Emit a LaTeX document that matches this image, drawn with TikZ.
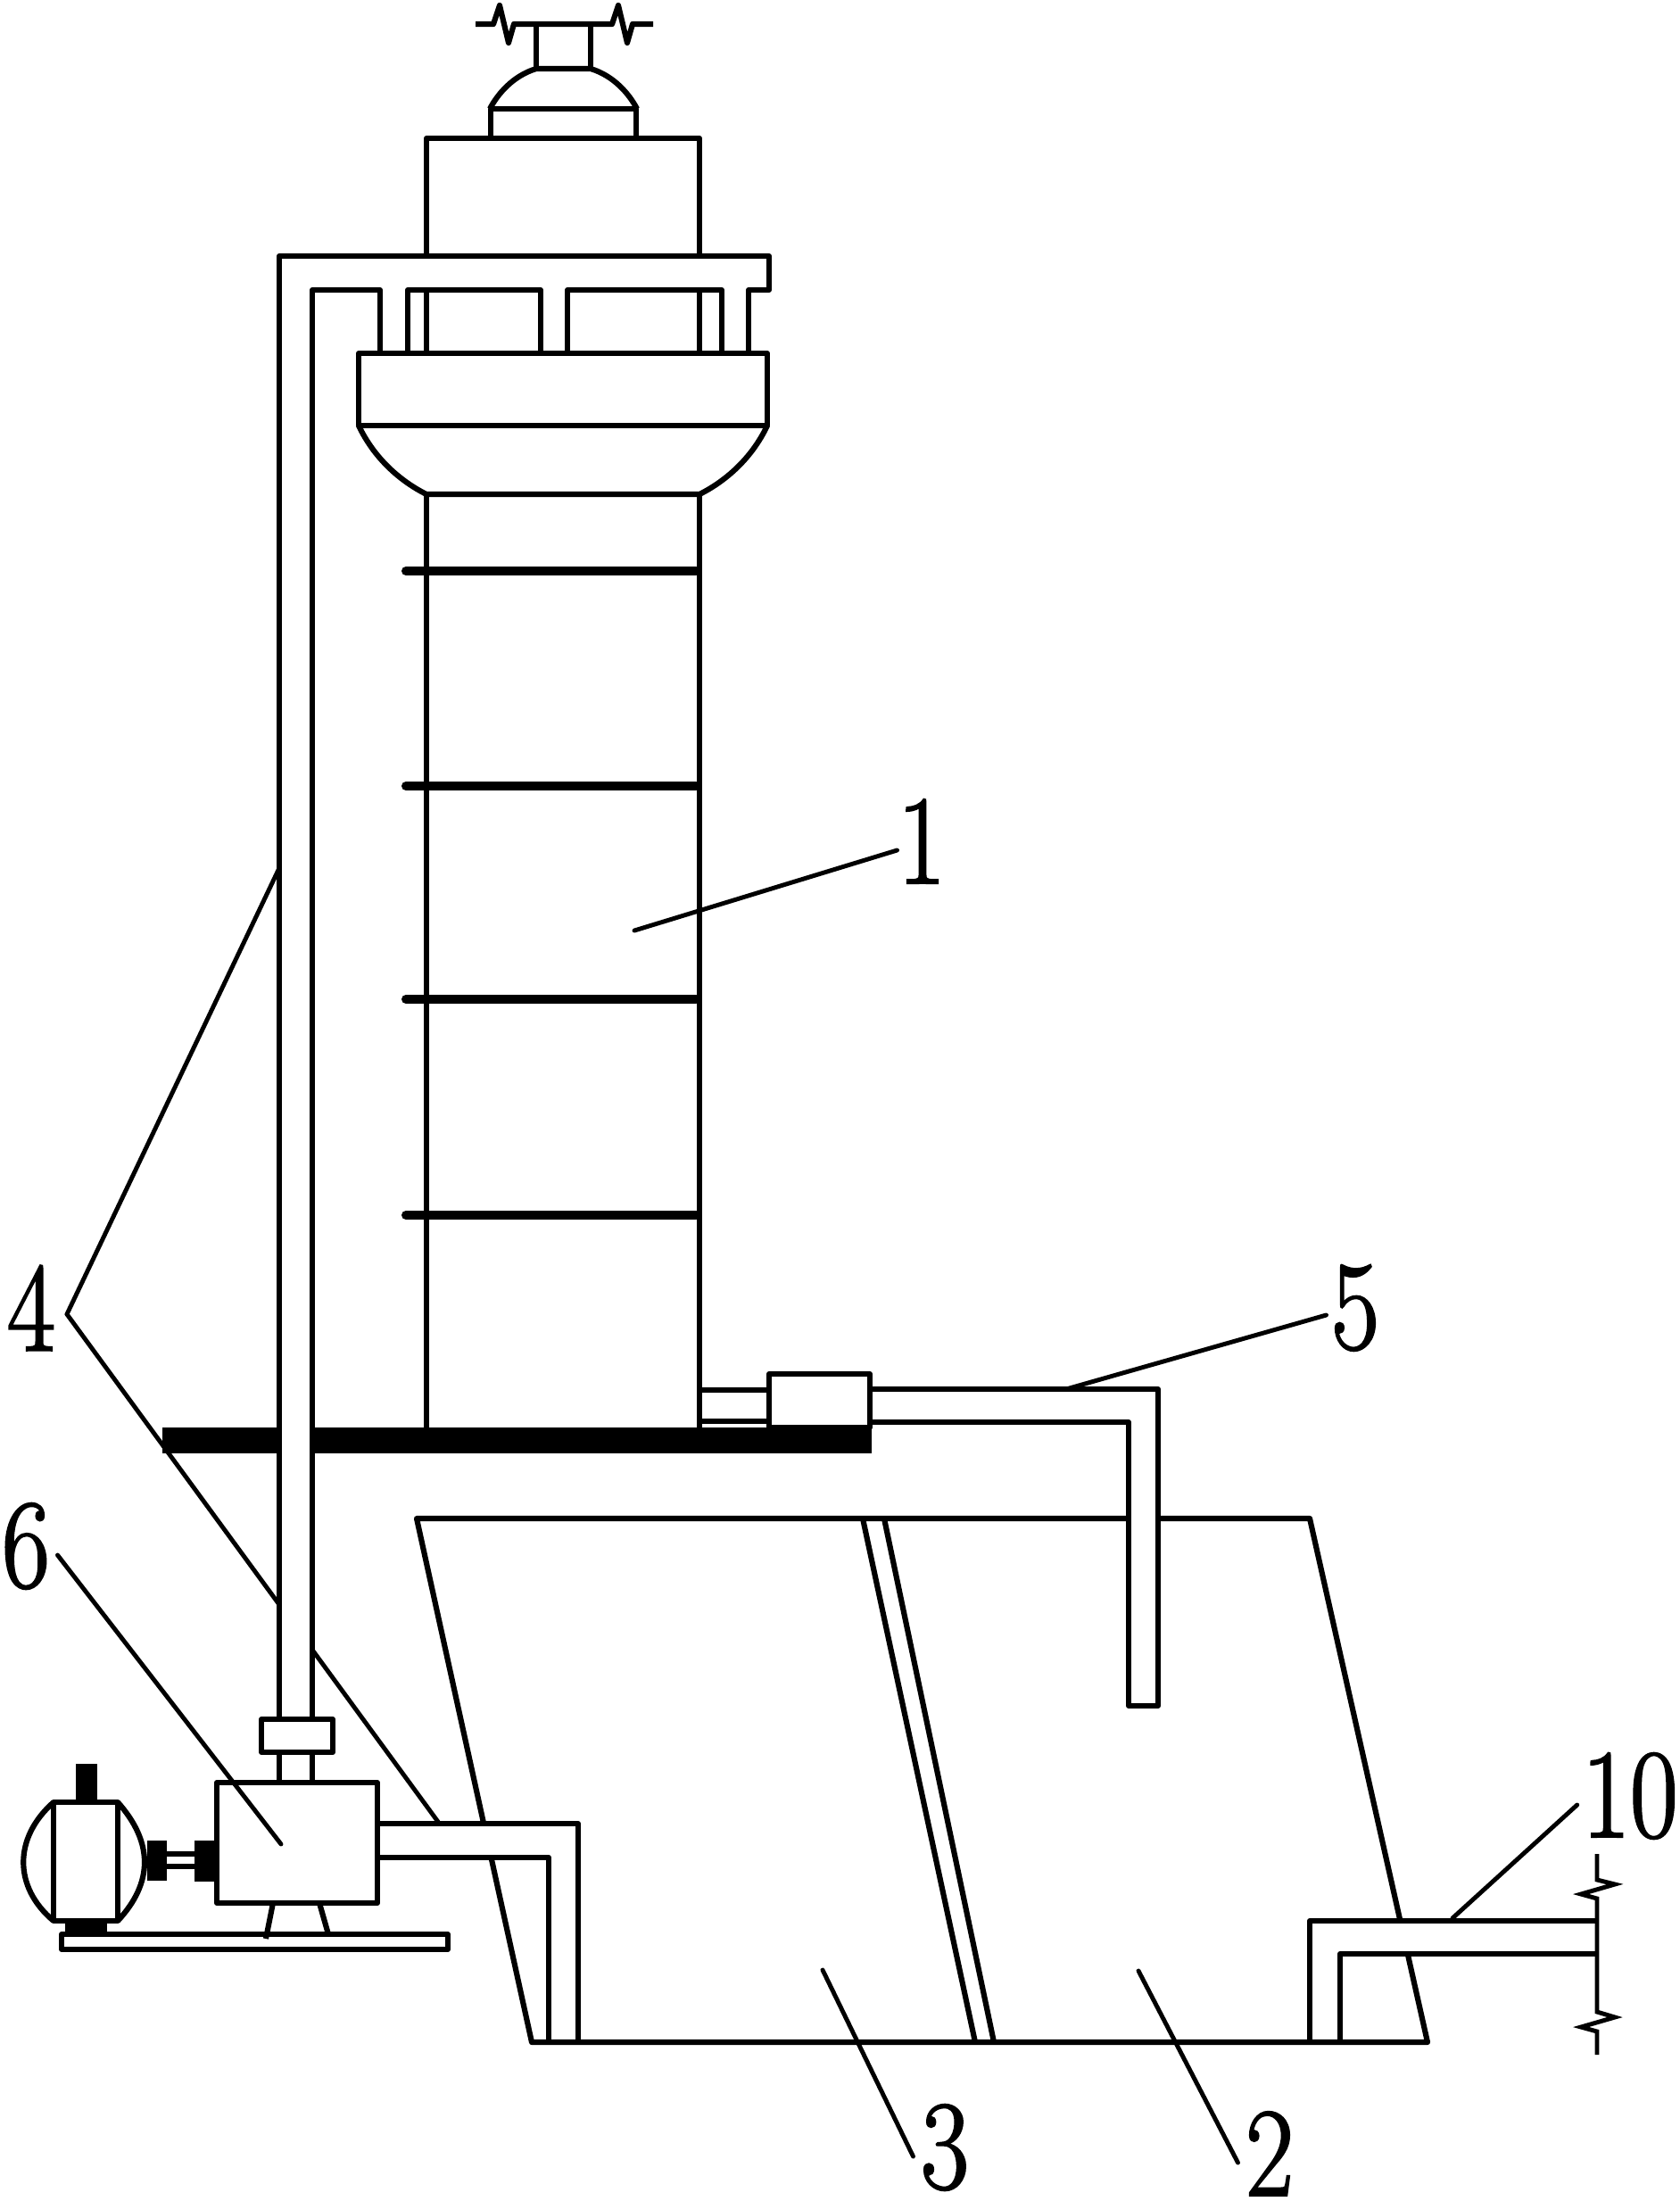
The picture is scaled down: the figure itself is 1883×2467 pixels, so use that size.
\documentclass[tikz,border=0pt]{standalone}
\usepackage{fontspec}
\newfontfamily\labfont[FakeBold=1.6,FakeStretch=.82]{Latin Modern Roman}
\tikzset{
	part/.style={line width=1.75pt,line join=round},
	leader/.style={line width=1.4pt,line cap=round},
	ring/.style={line width=2.85pt,line cap=round},
	lab/.style={font=\labfont\fontsize{40.5}{41}\selectfont,inner sep=0pt}
}
\begin{document}
\begin{tikzpicture}[x=0.01cm,y=-0.01cm]
	\useasboundingbox (0,0) rectangle (1883,2467);
	%labels
	\node[lab] (lab1) at (1033,943) {1};
	\node[lab] (lab2) at (1423,2414) {2};
	\node[lab] (lab3) at (1059,2407) {3};
	\node[lab] (lab4) at (35,1466) {4};
	\node[lab] (lab5) at (1519,1466) {5};
	\node[lab] (lab6) at (29,1733) {6};
	\node[lab] (lab10) at (1827,2013) {10};
	%leader ends
	\coordinate (tip1) at (711,1043);
	\coordinate (tip2) at (1276,2209);
	\coordinate (tip3) at (922,2208);
	\coordinate (tip4a) at (313,973);
	\coordinate (tip4b) at (491,2042);
	\coordinate (tip5) at (1195,1557);
	\coordinate (tip6) at (315,2067);
	\coordinate (tip10) at (1628,2150);
	%leaders behind the pipes
	\draw[leader] ([xshift=.125cm,yshift=-.07cm]lab4.east) -- (tip4a);
	\draw[leader] ([xshift=.125cm,yshift=-.07cm]lab4.east) -- (tip4b);
	%deck
	\fill (182,1600) rectangle (977,1629);
	%column
	\draw[part] (478,554) -- (478,1600);
	\draw[part] (784,554) -- (784,1600);
	\foreach \y in {640,881,1120,1362}
		\draw[ring] (455,\y) -- (780,\y);
	%collar and bowl
	\draw[part] (402,396) rectangle (860,477);
	\draw[part] (402,477) .. controls (420,515) and (450,540) .. (478,554) -- (784,554) .. controls (812,540) and (842,515) .. (860,477);
	%top box and dome
	\draw[part] (478,155) rectangle (784,287);
	\draw[part] (550,122) rectangle (713,155);
	\draw[part] (549,122) .. controls (558,105) and (575,85) .. (601,77) -- (662,77) .. controls (688,85) and (705,105) .. (714,122);
	\draw[part] (601,77) -- (601,27);
	\draw[part] (662,77) -- (662,27);
	\draw[part] (533,27) -- (553,27) -- (560,6) -- (570,48) -- (576,27) -- (686,27) -- (693,6) -- (703,48) -- (709,27) -- (732,27);
	%struts under the top pipe
	\draw[part] (457,396) -- (457,325) -- (606,325) -- (606,396);
	\draw[part] (636,396) -- (636,325) -- (809,325) -- (809,396);
	\draw[part] (478,325) -- (478,396);
	\draw[part] (784,325) -- (784,396);
	%tank
	\draw[part] (467,1702) -- (1468,1702) -- (1600,2289) -- (596,2289) -- cycle;
	\draw[part] (967,1702) -- (1093,2289);
	\draw[part] (991,1702) -- (1114,2289);
	%riser pipe
	\fill[white] (313,287) rectangle (350,1998);
	\draw[part] (426,396) -- (426,325) -- (350,325) -- (350,1927);
	\draw[part] (313,1927) -- (313,287) -- (862,287) -- (862,325) -- (839,325) -- (839,396);
	\draw[part] (313,1964) -- (313,1998);
	\draw[part] (350,1964) -- (350,1998);
	\draw[part] (293,1927) rectangle (373,1964);
	%outlet to column
	\draw[part] (784,1558) -- (862,1558);
	\draw[part] (784,1593) -- (862,1593);
	\fill[white] (1265,1594) rectangle (1298,1912);
	\draw[part] (975,1557) -- (1298,1557) -- (1298,1912) -- (1265,1912) -- (1265,1594) -- (975,1594);
	\draw[part,fill=white] (862,1540) rectangle (975,1600);
	%pump outlet
	\fill[white] (423,2044) rectangle (648,2082);
	\fill[white] (615,2044) rectangle (648,2285);
	\draw[part] (423,2044) -- (648,2044) -- (648,2289);
	\draw[part] (423,2082) -- (615,2082) -- (615,2289);
	%return pipe
	\fill[white] (1468,2153) rectangle (1790,2190);
	\fill[white] (1468,2153) rectangle (1502,2285);
	\draw[part] (1468,2289) -- (1468,2153) -- (1790,2153);
	\draw[part] (1502,2289) -- (1502,2190) -- (1790,2190);
	\draw[line width=1.4pt] (1790,2078) -- (1790,2107) -- (1810,2112) -- (1772,2123) -- (1790,2128) -- (1790,2255) -- (1810,2261) -- (1772,2272) -- (1790,2277) -- (1790,2303);
	%pump
	\draw[part,fill=white] (243,1998) rectangle (423,2133);
	\draw[part] (306,2133) -- (298,2173);
	\draw[part] (358,2133) -- (368,2168);
	\draw[part] (69,2168) rectangle (502,2185);
	%motor
	\draw[part] (60,2020) rectangle (132,2153);
	\draw[part] (60,2020) .. controls (15,2060) and (15,2115) .. (60,2153);
	\draw[part] (132,2020) .. controls (172,2065) and (172,2110) .. (132,2153);
	\fill (85,1977) rectangle (109,2020);
	\fill (73,2153) rectangle (120,2168);
	%shaft
	\fill (165,2063) rectangle (187,2108);
	\fill (218,2063) rectangle (243,2109);
	\draw[part] (187,2078) -- (218,2078);
	\draw[part] (187,2092) -- (218,2092);
	%leaders
	\draw[leader] ([yshift=-.1cm]lab1.west) -- (tip1);
	\draw[leader] (tip2) -- ([xshift=-.08cm,yshift=-.1cm]lab2.west);
	\draw[leader] (tip3) -- ([xshift=-.08cm,yshift=-.1cm]lab3.west);
	\draw[leader] (tip5) -- ([xshift=-.05cm,yshift=-.08cm]lab5.west);
	\draw[leader] ([xshift=.08cm,yshift=-.1cm]lab6.east) -- (tip6);
	\draw[leader] ([xshift=-.05cm,yshift=-.1cm]lab10.west) -- (tip10);
\end{tikzpicture}
\end{document}
